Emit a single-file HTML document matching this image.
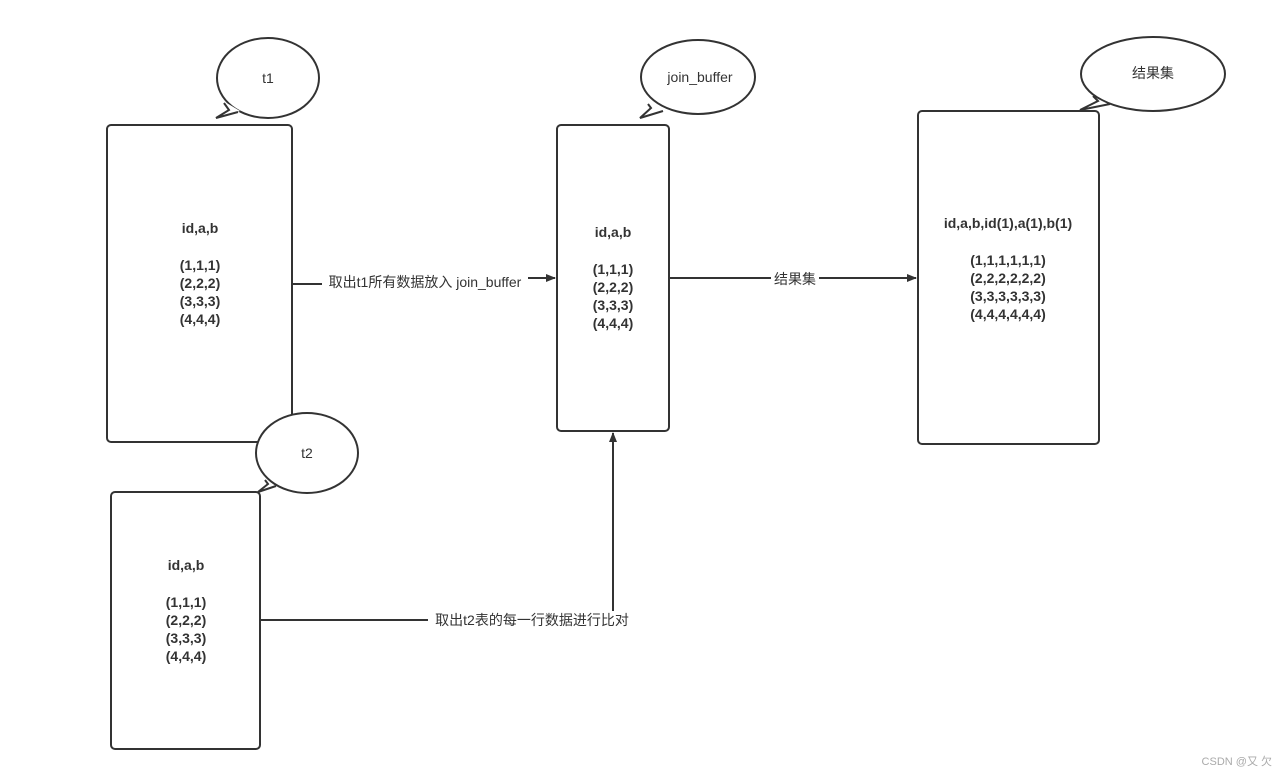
<!DOCTYPE html>
<html><head><meta charset="utf-8"><style>
html,body{margin:0;padding:0;background:#fff;}
svg{display:block;}
text{font-family:"Liberation Sans","Noto Sans CJK SC",sans-serif;fill:#333;}
.b{font-weight:bold;font-size:14px;}
.l{font-size:14px;}
</style></head><body>
<svg width="1288" height="777" viewBox="0 0 1288 777" xmlns="http://www.w3.org/2000/svg">
<defs><marker id="ar" markerWidth="10" markerHeight="8" refX="9" refY="4" orient="auto" markerUnits="userSpaceOnUse"><path d="M0,0 L10,4 L0,8 z" fill="#333"/></marker></defs>
<g fill="#fff" stroke="#333" stroke-width="2">
<rect x="107" y="125" width="185" height="317" rx="4"/>
<rect x="111" y="492" width="149" height="257" rx="4"/>
<rect x="557" y="125" width="112" height="306" rx="4"/>
<rect x="918" y="111" width="181" height="333" rx="4"/>
<!-- bubbles -->
<ellipse cx="268" cy="78" rx="51" ry="40"/>
<ellipse cx="307" cy="453" rx="51" ry="40"/>
<ellipse cx="698" cy="77" rx="57" ry="37"/>
<ellipse cx="1153" cy="74" rx="72" ry="37"/>
</g>
<g fill="#fff" stroke="none">
<polygon points="225,102 240,111 216,118"/>
<polygon points="266,480 280,489 258,492"/>
<polygon points="649,104 666,111 640,118"/>
<polygon points="1094,97 1112,106 1080,110"/>
</g>
<g fill="none" stroke="#333" stroke-width="2">
<polyline points="224,103 229,110 216,118 238,112"/>
<polyline points="265,480 268,484 258,492 276,486"/>
<polyline points="648,104 651,108 640,118 663,111"/>
<polyline points="1093,96 1098,101 1080,110 1110,104"/>
</g>
<text x="268" y="83" class="l" text-anchor="middle">t1</text>
<text x="307" y="458" class="l" text-anchor="middle">t2</text>
<text x="700" y="82" class="l" text-anchor="middle">join_buffer</text>
<text x="1153" y="78" class="l" text-anchor="middle">结果集</text>
<g class="b" text-anchor="middle">
<text x="200" y="233">id,a,b</text>
<text x="200" y="270">(1,1,1)</text><text x="200" y="288">(2,2,2)</text><text x="200" y="306">(3,3,3)</text><text x="200" y="324">(4,4,4)</text>
<text x="186" y="570">id,a,b</text>
<text x="186" y="607">(1,1,1)</text><text x="186" y="625">(2,2,2)</text><text x="186" y="643">(3,3,3)</text><text x="186" y="661">(4,4,4)</text>
<text x="613" y="237">id,a,b</text>
<text x="613" y="274">(1,1,1)</text><text x="613" y="292">(2,2,2)</text><text x="613" y="310">(3,3,3)</text><text x="613" y="328">(4,4,4)</text>
<text x="1008" y="228">id,a,b,id(1),a(1),b(1)</text>
<text x="1008" y="265">(1,1,1,1,1,1)</text><text x="1008" y="283">(2,2,2,2,2,2)</text><text x="1008" y="301">(3,3,3,3,3,3)</text><text x="1008" y="319">(4,4,4,4,4,4)</text>
</g>
<g stroke="#333" stroke-width="2" fill="none">
<path d="M292,284 L322,284"/>
<path d="M528,278 L555,278" marker-end="url(#ar)"/>
<path d="M669,278 L916,278" marker-end="url(#ar)"/>
<path d="M260,620 L613,620 L613,433" marker-end="url(#ar)"/>
</g>
<rect x="322" y="272" width="206" height="20" fill="#fff"/>
<text x="425" y="287" class="l" text-anchor="middle">取出t1所有数据放入 join_buffer</text>
<rect x="771" y="270" width="48" height="18" fill="#fff"/>
<text x="795" y="284" class="l" text-anchor="middle">结果集</text>
<rect x="428" y="611" width="208" height="18" fill="#fff"/>
<text x="532" y="625" class="l" text-anchor="middle">取出t2表的每一行数据进行比对</text>
<text x="1272" y="765" font-size="11" text-anchor="end" style="fill:#aaa">CSDN @又 欠</text>
</svg>
</body></html>
